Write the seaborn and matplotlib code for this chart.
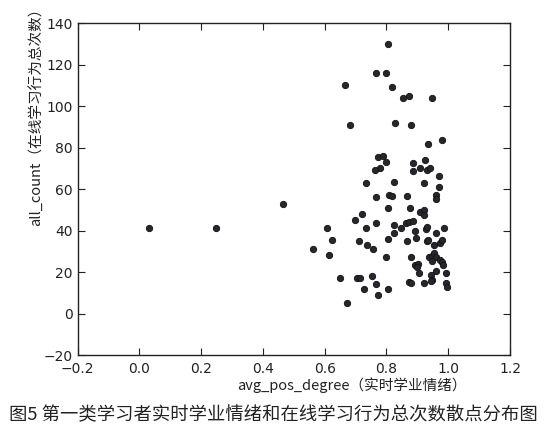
import pandas as pd
import seaborn as sns
import matplotlib.pyplot as plt

# 实时学业情绪 (x) 与 在线学习行为总次数 (y)
avg_pos_degree = [
    0.030, 0.247, 0.466, 0.806, 0.765, 0.800, 0.665, 0.819, 0.852, 0.872,
    0.949, 0.683, 0.828, 0.878, 0.981, 0.934, 0.774, 0.789, 0.800, 0.780,
    0.762, 0.885, 0.925, 0.909, 0.930, 0.941, 0.887, 0.969, 0.733, 0.823,
    0.923, 0.969, 0.766, 0.807, 0.818, 0.867, 0.959, 0.959, 0.806, 0.877,
    0.909, 0.923, 0.923, 0.720, 0.699, 0.766, 0.825, 0.863, 0.874, 0.885,
    0.847, 0.607, 0.733, 0.825, 0.892, 0.927, 0.930, 0.959, 0.986, 0.623,
    0.711, 0.804, 0.868, 0.896, 0.930, 0.935, 0.955, 0.973, 0.980, 0.736,
    0.563, 0.758, 0.613, 0.798, 0.880, 0.939, 0.946, 0.955, 0.962, 0.973,
    0.979, 0.984, 0.949, 0.892, 0.903, 0.898, 0.960, 0.992, 0.905, 0.944,
    0.949, 0.944, 0.649, 0.705, 0.713, 0.752, 0.766, 0.727, 0.804, 0.774,
    0.872, 0.879, 0.923, 0.993, 0.995, 0.671,
]
all_count = [
    41, 41, 53, 130, 116, 116, 110, 109, 104, 105,
    104, 91, 92, 91, 83.5, 81.5, 75.5, 76, 73, 70,
    69, 72.5, 74, 70, 69, 70, 68.5, 66.5, 63, 63.5,
    63, 61, 56, 57, 56.5, 56.5, 57, 55, 51, 51,
    49, 50, 47.5, 48, 45, 43.5, 42.5, 43.5, 44, 44.5,
    41, 41, 41, 39, 40, 40.5, 41.5, 39, 41, 35.5,
    35, 36, 35, 36.5, 35, 35.5, 33, 34, 35.5, 33,
    31, 31, 28, 27, 27, 27, 27.5, 29, 27, 26,
    25, 23.5, 25.5, 23.5, 24, 22.5, 20.5, 19.5, 19.5, 18.5,
    16, 15.5, 17, 17, 17, 18, 14, 12, 12, 9,
    15, 14.5, 14.5, 14.5, 13, 5,
]

df = pd.DataFrame({'avg_pos_degree': avg_pos_degree, 'all_count': all_count})

sns.set_style('ticks', {'xtick.direction': 'in', 'ytick.direction': 'in'})
plt.rcParams['font.family'] = ['DejaVu Sans', 'Noto Sans CJK SC']
cjk = ['Noto Sans CJK SC', 'DejaVu Sans']

fig = plt.figure(figsize=(5.51, 4.30), dpi=100)
ax = fig.add_axes([0.1407, 0.1744, 0.7849, 0.7721])

sns.scatterplot(data=df, x='avg_pos_degree', y='all_count', ax=ax,
                s=21, color='#26262e', edgecolor='#111111', linewidth=0.6)

ax.set_xlim(-0.2, 1.2)
ax.set_ylim(-20, 140)
ax.set_xticks([-0.2, 0.0, 0.2, 0.4, 0.6, 0.8, 1.0, 1.2])
ax.set_yticks(range(-20, 141, 20))
ax.tick_params(top=True, right=True, length=5, width=0.8, labelsize=10, colors='#222222')
ax.tick_params(axis='x', pad=5)
for sp in ax.spines.values():
    sp.set_linewidth(1.0)
    sp.set_color('#222222')

ax.set_xlabel('avg_pos_degree（实时学业情绪）', fontsize=10.5, color='#222222', family=cjk)
ax.set_ylabel('all_count（在线学习行为总次数）', fontsize=10.5, color='#222222', family=cjk)
ax.xaxis.set_label_coords(0.634, -0.068)
ax.yaxis.set_label_coords(-0.078, 0.727)

fig.text(0.496, 0.034, '图5 第一类学习者实时学业情绪和在线学习行为总次数散点分布图',
         fontsize=13.2, ha='center', va='center', color='#222222', family=cjk)

fig.savefig('out.png', dpi=100)
